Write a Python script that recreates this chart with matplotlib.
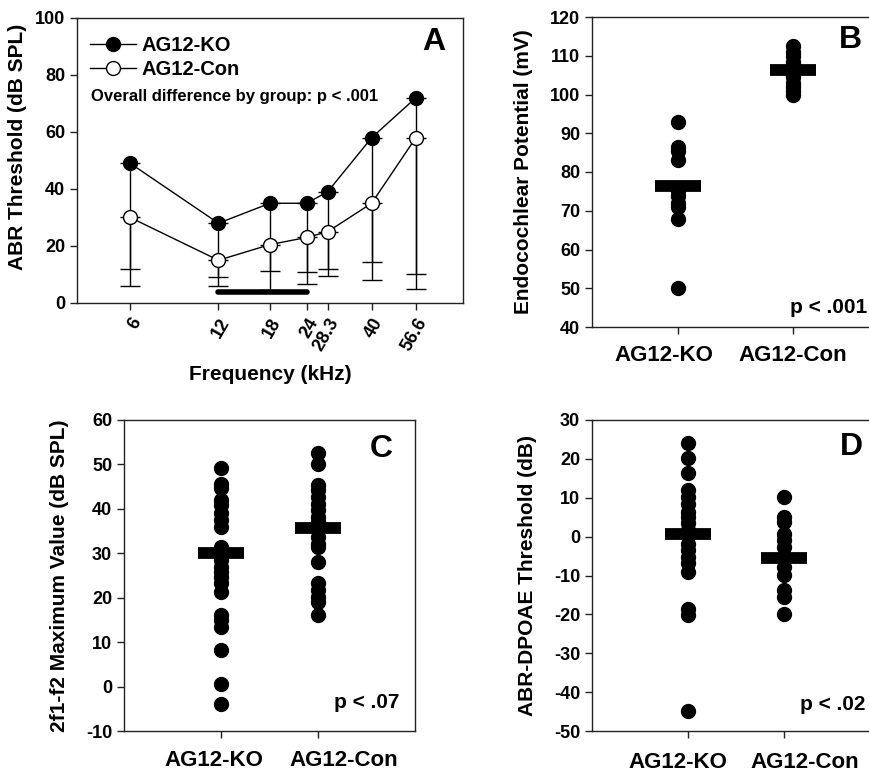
import matplotlib
matplotlib.use("Agg")
import matplotlib.pyplot as plt
import numpy as np

plt.rcParams['font.family'] = ['Liberation Sans', 'DejaVu Sans']
plt.rcParams['font.weight'] = 'bold'
plt.rcParams['axes.unicode_minus'] = False

# Panel A data
freqs = [6, 12, 18, 24, 28.3, 40, 56.6]
freq_labels = ['6', '12', '18', '24', '28.3', '40', '56.6']
ko_abr = [49, 28, 35, 35, 39, 58, 72]
con_abr = [30, 15, 20.5, 23, 25, 35, 58]
ko_sd = [37, 22, 23.7, 24, 27, 43.6, 62]
con_sd = [24, 6, 15.8, 16.4, 15.6, 26.8, 53]
sig_range = [12, 24]

groups = ['AG12-KO', 'AG12-Con']

# Panel B: endocochlear potential (mV)
ep_ko = [93, 86.5, 85.3, 83, 75, 73.7, 72, 71, 68, 50]
ep_con = [112.4, 111, 110, 108.5, 107, 106, 104.5, 103, 102, 101, 99.8]
ep_mean = [76.3, 106.4]

# Panel C: 2f1-f2 maximum value (dB SPL)
dp_ko = [49.1, 45.7, 44.6, 42.0, 40.8, 39.0, 37.5, 36.0, 31.5, 30.0, 28.4,
         26.9, 25.8, 24.7, 23.2, 21.3, 16.0, 14.9, 13.4, 8.2, 0.6, -3.9]
dp_con = [52.5, 50.1, 45.3, 44.2, 42.7, 41.2, 39.7, 38.2, 37.1, 35.2, 33.7,
          32.2, 31.5, 28.1, 23.2, 21.7, 20.2, 19.1, 16.0]
dp_mean = [30.1, 35.8]

# Panel D: ABR-DPOAE threshold (dB)
ad_ko = [24.2, 20.1, 16.3, 12.0, 10.3, 8.5, 6.4, 5.1, 3.4, 1.7, -1.8, -3.5,
         -5.2, -6.9, -9.1, -18.5, -20.2, -44.8]
ad_con = [10.3, 5.1, 3.8, 0.8, -0.9, -2.6, -5.2, -7.8, -9.9, -13.8, -15.5, -20.0]
ad_mean = [0.6, -5.4]

W, H = 870, 771
fig = plt.figure(figsize=(W / 100, H / 100), dpi=100)

def add_ax(l, r, t, b):
    return fig.add_axes([l / W, 1 - b / H, (r - l) / W, (b - t) / H])

spine_col = '#222222'
def style(ax):
    for s in ax.spines.values():
        s.set_linewidth(1.0)
        s.set_color(spine_col)
    ax.tick_params(direction='out', length=5, width=1, color=spine_col,
                   labelsize=13)
    for lab in ax.get_xticklabels() + ax.get_yticklabels():
        lab.set_fontweight('bold')

# ---------- Panel A ----------
axA = add_ax(77, 463, 18, 303)
axA.set_xscale('log')
axA.set_xlim(3.95, 82)
axA.set_ylim(0, 100)
axA.errorbar(freqs, ko_abr, yerr=[ko_sd, np.zeros(len(ko_sd))], fmt='none',
             ecolor='black', elinewidth=1, capsize=7.5, capthick=1, zorder=1)
axA.errorbar(freqs, con_abr, yerr=[con_sd, np.zeros(len(con_sd))], fmt='none',
             ecolor='black', elinewidth=1, capsize=7.5, capthick=1, zorder=1)
axA.plot(freqs, ko_abr, '-o', color='black', mfc='black', mec='black',
         ms=10, lw=1, label='AG12-KO', zorder=3)
axA.plot(freqs, con_abr, '-o', color='black', mfc='white', mec='black',
         ms=10, lw=1, label='AG12-Con', zorder=3)
axA.plot(sig_range, [4, 4], color='black', lw=4, solid_capstyle='round', zorder=2)
axA.set_xticks(freqs)
axA.set_xticklabels(freq_labels, rotation=60, ha='right', rotation_mode='anchor')
axA.minorticks_off()
axA.set_yticks([0, 20, 40, 60, 80, 100])
axA.set_xlabel('Frequency (kHz)', fontsize=15, fontweight='bold', labelpad=8)
axA.set_ylabel('ABR Threshold (dB SPL)', fontsize=15, fontweight='bold', labelpad=6)
axA.yaxis.label.set_y(0.547)
axA.legend(loc='upper left', bbox_to_anchor=(0.012, 0.965), frameon=False,
           handlelength=2.3, handletextpad=0.25, borderaxespad=0.0,
           labelspacing=0.25, prop={'weight': 'bold', 'size': 14.5})
axA.text(0.035, 0.723, 'Overall difference by group: p < .001', transform=axA.transAxes,
         fontsize=12, fontweight='bold', va='center', ha='left')
axA.text(0.955, 0.97, 'A', transform=axA.transAxes, fontsize=23,
         fontweight='bold', ha='right', va='top')
style(axA)

def scatter_panel(ax, ko, con, means, ylim, yticks, ylabel, letter, letter_pos,
                  ptxt, p_pos, xlim, half, label_x, label_dy):
    ax.plot(np.full(len(ko), 1.0), ko, 'o', color='black', ms=10, zorder=2)
    ax.plot(np.full(len(con), 2.0), con, 'o', color='black', ms=10, zorder=2)
    for i, m in enumerate(means):
        ax.plot([i + 1 - half, i + 1 + half], [m, m], color='black', lw=8.5,
                solid_capstyle='butt', zorder=3)
    ax.set_xlim(*xlim)
    ax.set_ylim(*ylim)
    ax.set_yticks(yticks)
    ax.set_xticks([1, 2])
    ax.set_xticklabels(['', ''])
    ax.set_ylabel(ylabel, fontsize=15, fontweight='bold', labelpad=12)
    ax.text(letter_pos[0], letter_pos[1], letter, transform=ax.transAxes,
            fontsize=23, fontweight='bold', ha='right', va='top')
    ax.text(p_pos[0], p_pos[1], ptxt, transform=ax.transAxes, fontsize=15,
            fontweight='bold', ha='right', va='baseline')
    for g, lx in zip(groups, label_x):
        ax.text(lx, label_dy, g, transform=ax.get_xaxis_transform(),
                fontsize=16, fontweight='bold', ha='center', va='center')
    style(ax)

# ---------- Panel B ----------
axB = add_ax(592, 879, 17, 327)
scatter_panel(axB, ep_ko, ep_con, ep_mean, (40, 120), range(40, 121, 10),
              'Endocochlear Potential (mV)', 'B', (0.94, 0.975),
              'p < .001', (0.96, 0.045), (0.25, 2.75), 0.2,
              (0.88, 2.0), -28 / 310)

# ---------- Panel C ----------
axC = add_ax(124, 415, 420, 731)
scatter_panel(axC, dp_ko, dp_con, dp_mean, (-10, 60), range(-10, 61, 10),
              '2f1-f2 Maximum Value (dB SPL)', 'C', (0.924, 0.955),
              'p < .07', (0.948, 0.074), (0, 3), 0.24,
              (0.93, 2.27), -29 / 311)

# ---------- Panel D ----------
axD = add_ax(592, 880, 420, 731)
scatter_panel(axD, ad_ko, ad_con, ad_mean, (-50, 30), range(-50, 31, 10),
              'ABR-DPOAE Threshold (dB)', 'D', (0.94, 0.96),
              'p < .02', (0.948, 0.068), (0, 3), 0.24,
              (0.89, 2.22), -31 / 311)

fig.savefig('out.png', dpi=100, facecolor='white')
